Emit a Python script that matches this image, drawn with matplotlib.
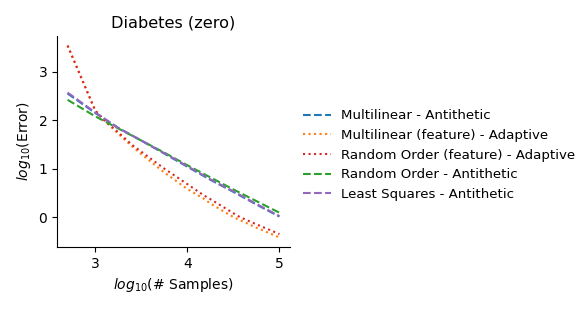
import matplotlib
matplotlib.use("Agg")
import matplotlib.pyplot as plt

x_ls = [2.7, 3.0, 3.25, 3.5, 3.75, 4.0, 4.25, 4.5, 4.75, 5.0]
ml_anti = [2.55, 2.15, 1.84, 1.58, 1.31, 1.04, 0.77, 0.52, 0.26, 0.01]
ro_anti = [2.42, 2.08, 1.83, 1.58, 1.33, 1.07, 0.82, 0.57, 0.33, 0.09]
ls_anti = [2.57, 2.16, 1.84, 1.58, 1.32, 1.05, 0.78, 0.53, 0.27, 0.02]

x_ad = [2.7, 2.85, 3.0, 3.1, 3.25, 3.4, 3.5, 3.75, 4.0, 4.17, 4.25, 4.5, 4.57, 4.75, 5.0]
ml_feat = [3.54, 2.87, 2.20, 1.99, 1.72, 1.46, 1.30, 0.92, 0.58, 0.39, 0.28, 0.0, -0.06, -0.22, -0.42]
ro_feat = [3.54, 2.87, 2.20, 2.00, 1.75, 1.49, 1.35, 1.00, 0.68, 0.46, 0.37, 0.08, 0.0, -0.15, -0.35]

labels = ["Multilinear - Antithetic", "Multilinear (feature) - Adaptive",
          "Random Order (feature) - Adaptive", "Random Order - Antithetic",
          "Least Squares - Antithetic"]
colors = ["#1f77b4", "#ff7f0e", "#d62728", "#2ca02c", "#9467bd"]

fig = plt.figure(figsize=(5.81, 3.10), dpi=100)
ax = fig.add_axes([57/581, 1-247/310, 233/581, 211/310])
ax.plot(x_ls, ml_anti, '--', color=colors[0], label=labels[0])
ax.plot(x_ad, ml_feat, ':', color=colors[1], label=labels[1])
ax.plot(x_ad, ro_feat, ':', color=colors[2], label=labels[2])
ax.plot(x_ls, ro_anti, '--', color=colors[3], label=labels[3])
ax.plot(x_ls, ls_anti, '--', color=colors[4], label=labels[4])
ax.set_xticks([3, 4, 5])
ax.set_yticks([0, 1, 2, 3])
ax.spines['top'].set_visible(False)
ax.spines['right'].set_visible(False)
ax.set_title("Diabetes (zero)", fontsize=11.6)
ax.set_xlabel("$log_{10}$(# Samples)")
ax.set_ylabel("$log_{10}$(Error)")
ax.legend(loc='center left', bbox_to_anchor=(1.003, 0.436), frameon=False,
          fontsize=9.6, handlelength=2.1, handletextpad=0.8, labelspacing=0.5)
fig.savefig("out.png", dpi=100)
